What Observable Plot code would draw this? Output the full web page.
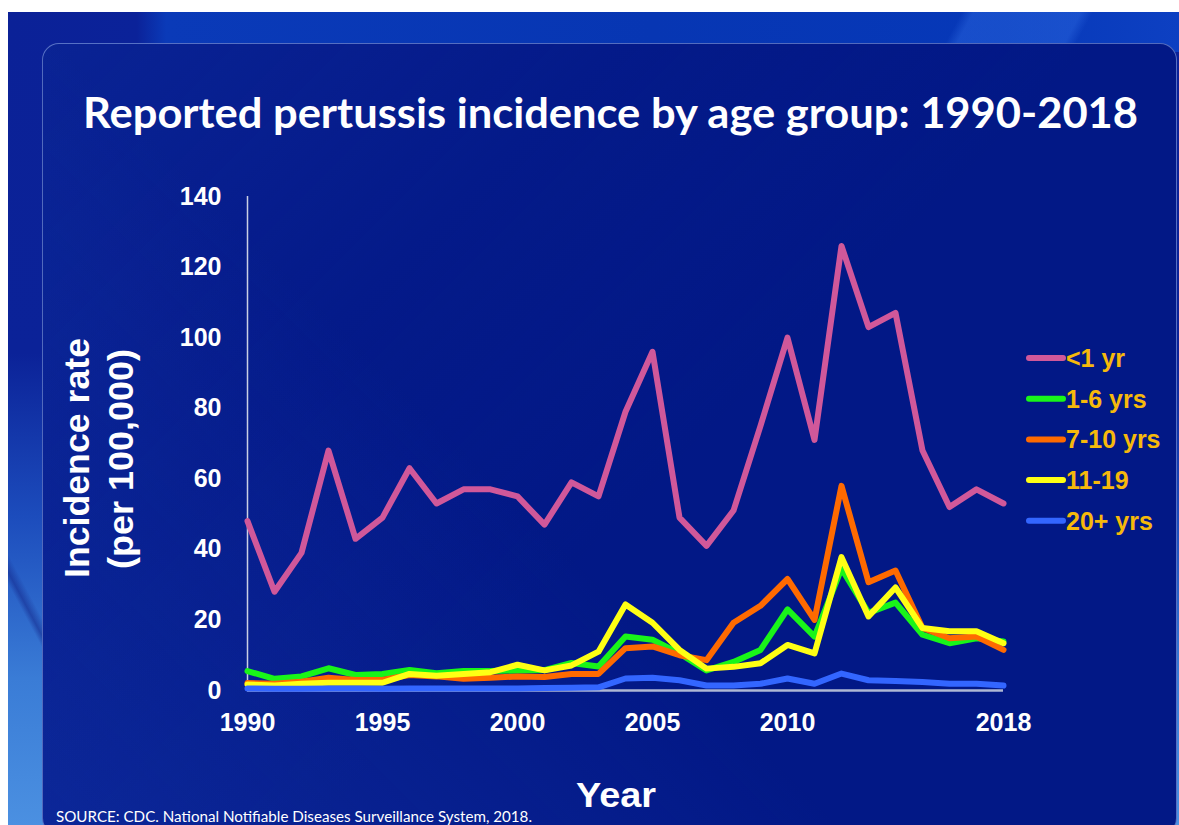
<!DOCTYPE html>
<html>
<head>
<meta charset="utf-8">
<title>Reported pertussis incidence by age group: 1990-2018</title>
<script src="https://cdn.jsdelivr.net/npm/d3@7"></script>
<script src="https://cdn.jsdelivr.net/npm/@observablehq/plot@0.6"></script>
<style>
  html, body { margin: 0; padding: 0; background: #ffffff; }
  #slide { position: relative; width: 1179px; height: 825px; overflow: hidden; background: #ffffff; }
  #bg {
    position: absolute; left: 8px; top: 12px; width: 1171px; height: 813px;
    background:
      linear-gradient(62deg, transparent 0%, transparent 8%, rgba(20,40,140,0.55) 8.4%, transparent 9%, transparent 100%),
      linear-gradient(180deg, #0b2197 0%, #0b2298 42%, #1c4cbc 62%, #3a7cd6 82%, #4b90e1 100%);
  }
  #topband {
    position: absolute; left: 8px; top: 12px; width: 1171px; height: 40px;
    background:
      linear-gradient(118deg, transparent 80%, rgba(45,105,225,0.45) 81%, rgba(45,105,225,0.45) 90%, transparent 91%),
      linear-gradient(90deg, #0b2197 0%, #0b2299 11%, #0a3ab8 13.5%, #0736b3 55%, #0638b8 85%, #0d40c2 100%);
  }
  #panel {
    position: absolute; left: 42px; top: 43px; width: 1133px; height: 790px;
    border: 1.5px solid rgba(150,175,235,0.55); border-radius: 17px;
    background:
      linear-gradient(45deg, rgba(35,75,195,0.28) 0%, rgba(35,75,195,0.1) 28%, transparent 42%),
      linear-gradient(135deg, rgba(25,55,175,0.35) 0%, rgba(15,40,160,0.12) 30%, transparent 55%),
      #021886;
  }
  #chart { position: absolute; left: 0; top: 0; }
</style>
</head>
<body>
<div id="slide">
  <div id="bg"></div>
  <div id="topband"></div>
  <div id="panel"></div>
  <div id="chart"></div>
</div>
<script>
// Reported pertussis incidence (per 100,000) by age group, 1990-2018
const years = [1990, 1991, 1992, 1993, 1994, 1995, 1996, 1997, 1998, 1999,
               2000, 2001, 2002, 2003, 2004, 2005, 2006, 2007, 2008, 2009,
               2010, 2011, 2012, 2013, 2014, 2015, 2016, 2017, 2018];

const ageGroups = ["<1 yr", "1-6 yrs", "7-10 yrs", "11-19", "20+ yrs"];
const groupColors = ["#d0589a", "#19f519", "#ff6a00", "#ffff14", "#3366ff"];

const under1 = [48, 28, 39, 68, 43, 49, 63, 53, 57, 57,
                55, 47, 59, 55, 79, 96, 49, 41, 51, 75,
                100, 71, 126, 103, 107, 68, 52, 57, 53];
const age1to6 = [5.5, 3.3, 4.0, 6.3, 4.4, 4.7, 5.8, 4.9, 5.5, 5.5,
                 5.7, 5.8, 7.8, 6.8, 15.3, 14.4, 10.5, 5.7, 8.1, 11.5,
                 23, 15.3, 34.5, 22, 24.9, 15.8, 13.4, 14.8, 13.9];
const age7to10 = [2.1, 1.9, 2.5, 3.6, 3.0, 3.0, 4.4, 4.0, 3.3, 3.6,
                  4.0, 3.8, 4.7, 4.7, 12, 12.5, 10, 8.6, 19.2, 24,
                  31.6, 20, 58, 30.7, 34, 17.7, 14.8, 15.3, 11.5];
const age11to19 = [1.7, 1.4, 1.9, 2.2, 2.2, 2.2, 4.7, 4.2, 4.7, 5.2,
                   7.3, 5.7, 7.1, 11, 24.4, 19.2, 11.5, 6.2, 6.7, 7.7,
                   12.9, 10.5, 37.8, 21, 29.2, 17.7, 16.8, 16.8, 13.4];
const age20plus = [0.6, 0.5, 0.5, 0.6, 0.6, 0.5, 0.6, 0.6, 0.6, 0.6,
                   0.6, 0.7, 0.8, 0.9, 3.4, 3.6, 2.9, 1.4, 1.4, 1.9,
                   3.4, 1.9, 4.8, 2.9, 2.7, 2.4, 1.9, 1.9, 1.4];

const xTicks = [1990, 1995, 2000, 2005, 2010, 2018];
const yTicks = [0, 20, 40, 60, 80, 100, 120, 140];

const seriesValues = [under1, age1to6, age7to10, age11to19, age20plus];

// long-format table for Plot
const rows = [];
ageGroups.forEach((group, gi) => {
  years.forEach((year, i) => rows.push({year, group, rate: seriesValues[gi][i]}));
});

const chart = Plot.plot({
  width: 1179,
  height: 825,
  marginLeft: 247,
  marginRight: 176,
  marginTop: 196,
  marginBottom: 135,
  x: {domain: [1990, 2018], ticks: xTicks, tickFormat: d => String(d), tickSize: 0, tickPadding: 23, label: null},
  y: {domain: [0, 140], ticks: yTicks, tickSize: 0, tickPadding: 26, label: null},
  color: {domain: ageGroups, range: groupColors},
  style: {
    background: "transparent",
    color: "#ffffff",
    fontFamily: "'Liberation Sans', Arial, sans-serif",
    fontSize: "25px",
    fontWeight: "bold",
    overflow: "visible"
  },
  marks: [
    Plot.ruleX([1990], {stroke: "#c9cfe4", strokeWidth: 1.5}),
    Plot.ruleY([0], {stroke: "#aeb7d4", strokeWidth: 2.5}),
    Plot.lineY(rows, {x: "year", y: "rate", z: "group", stroke: "group", strokeWidth: 6})
  ]
});

document.getElementById("chart").appendChild(chart);

// titles, axis names, legend and source note on the same SVG
const svg = d3.select(chart);
const sansBold = "'Liberation Sans', Arial, sans-serif";

svg.append("text")
  .attr("x", 83).attr("y", 128)
  .attr("text-anchor", "start")
  .attr("textLength", 1055).attr("lengthAdjust", "spacingAndGlyphs")
  .attr("fill", "#ffffff")
  .style("font-family", "Lato, 'Open Sans', sans-serif")
  .style("font-weight", "700")
  .style("font-size", "42px")
  .text("Reported pertussis incidence by age group: 1990-2018");

const yTitle = svg.append("g")
  .attr("transform", "translate(0,458) rotate(-90)")
  .attr("fill", "#ffffff")
  .attr("text-anchor", "middle")
  .style("font-family", sansBold)
  .style("font-weight", "bold")
  .style("font-size", "35px");
yTitle.append("text").attr("x", 0).attr("y", 89)
  .attr("textLength", 240).attr("lengthAdjust", "spacingAndGlyphs")
  .text("Incidence rate");
yTitle.append("text").attr("x", -1).attr("y", 133)
  .attr("textLength", 220).attr("lengthAdjust", "spacingAndGlyphs")
  .text("(per 100,000)");

svg.append("text")
  .attr("x", 616).attr("y", 807)
  .attr("text-anchor", "middle")
  .attr("textLength", 80).attr("lengthAdjust", "spacingAndGlyphs")
  .attr("fill", "#ffffff")
  .style("font-family", sansBold)
  .style("font-weight", "bold")
  .style("font-size", "35px")
  .text("Year");

svg.append("text")
  .attr("x", 56).attr("y", 822)
  .attr("text-anchor", "start")
  .attr("textLength", 476).attr("lengthAdjust", "spacingAndGlyphs")
  .attr("fill", "#ffffff")
  .style("font-family", "Lato, 'Open Sans', sans-serif")
  .style("font-weight", "400")
  .style("font-size", "14.5px")
  .text("SOURCE: CDC. National Notifiable Diseases Surveillance System, 2018.");

// legend
const legend = svg.append("g").attr("text-anchor", "start");
ageGroups.forEach((group, i) => {
  const cy = 358 + i * 40.7;
  legend.append("line")
    .attr("x1", 1029).attr("x2", 1063).attr("y1", cy).attr("y2", cy)
    .attr("stroke", groupColors[i]).attr("stroke-width", 6).attr("stroke-linecap", "round");
  legend.append("text")
    .attr("x", 1066).attr("y", cy + 9)
    .attr("fill", "#f6b90b")
    .style("font-family", sansBold)
    .style("font-weight", "bold")
    .style("font-size", "25px")
    .text(group);
});
</script>
</body>
</html>
